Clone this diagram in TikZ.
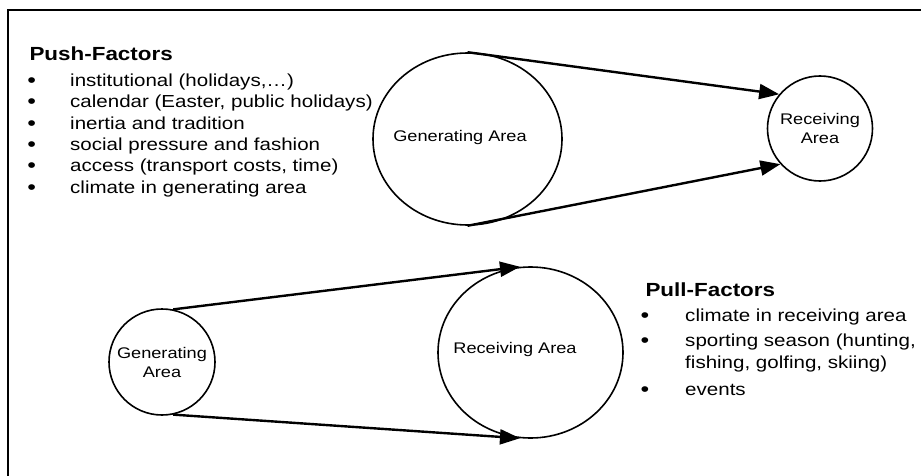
\documentclass[tikz,border=0pt]{standalone}
\usepackage{fontspec}
\setmainfont{Liberation Sans}[FakeStretch=1.18]
\usetikzlibrary{shapes.geometric,arrows.meta}

\begin{document}
\begin{tikzpicture}[x=1pt, y=-1pt,
        area/.style={draw, line width=1.6pt, inner sep=0pt},
        flow/.style={-{Triangle[length=20pt, width=15pt]}, line width=2.4pt},
        title/.style={anchor=base west, font=\fontsize{19}{22}\selectfont\bfseries},
        item/.style={anchor=base west, font=\fontsize{17.4}{21}\selectfont},
        dot/.style={anchor=base, font=\fontsize{21}{21}\selectfont},
        lbl/.style={align=center, font=\fontsize{15.4}{19}\selectfont}]
        \useasboundingbox (0, 0) rectangle (921, 476);
        \draw [line width=1.5pt] (8, 476) -- (8, 10) -- (921, 10);
        % push factors
        \node [title] (push) at (26, 61) {Push-Factors};
        \foreach \t [count=\i] in {{institutional (holidays,\ldots)},
            {calendar (Easter, public holidays)}, {inertia and tradition},
            {social pressure and fashion}, {access (transport costs, time)},
            {climate in generating area}}
        {
            \node [dot] (pushdot\i) at (31.7, 66.4 + 21.3 * \i) {\textbullet};
            \node [item] (push\i) at (66.7, 65.4 + 21.3 * \i) {\t};
        }
        % pull factors
        \node [title] (pull) at (642, 296) {Pull-Factors};
        \node [dot] (pulldot1) at (645, 322.7) {\textbullet};
        \node [item] (pull1) at (681.7, 321.7) {climate in receiving area};
        \node [dot] (pulldot2) at (645, 347.7) {\textbullet};
        \node [item] (pull2) at (681.7, 346.7) {sporting season (hunting,};
        \node [item] (pull2b) at (681.7, 368.3) {fishing, golfing, skiing)};
        \node [dot] (pulldot3) at (645, 396) {\textbullet};
        \node [item] (pull3) at (681.7, 395) {events};
        % upper flow
        \node [area, ellipse, minimum width=189pt, minimum height=172pt] (gtop)
            at (467.5, 139) {};
        \node [lbl] (gtoplbl) at (460, 138) {Generating Area};
        \node [area, circle, minimum size=105pt, lbl] (rtop) at (820, 128.5)
            {Receiving\\Area};
        \draw [flow] (gtop.north) -- (rtop.140);
        \draw [flow] (gtop.south) -- (rtop.222);
        % lower flow
        \node [area, circle, minimum size=106pt, lbl] (gbot) at (162, 362)
            {Generating\\Area};
        \node [area, ellipse, minimum width=185pt, minimum height=171pt] (rbot)
            at (530.5, 352.5) {};
        \node [lbl] (rbotlbl) at (515, 350) {Receiving Area};
        \draw [flow] (gbot.78) -- (rbot.97);
        \draw [flow] (gbot.282) -- (rbot.263);
    \end{tikzpicture}
\end{document}
